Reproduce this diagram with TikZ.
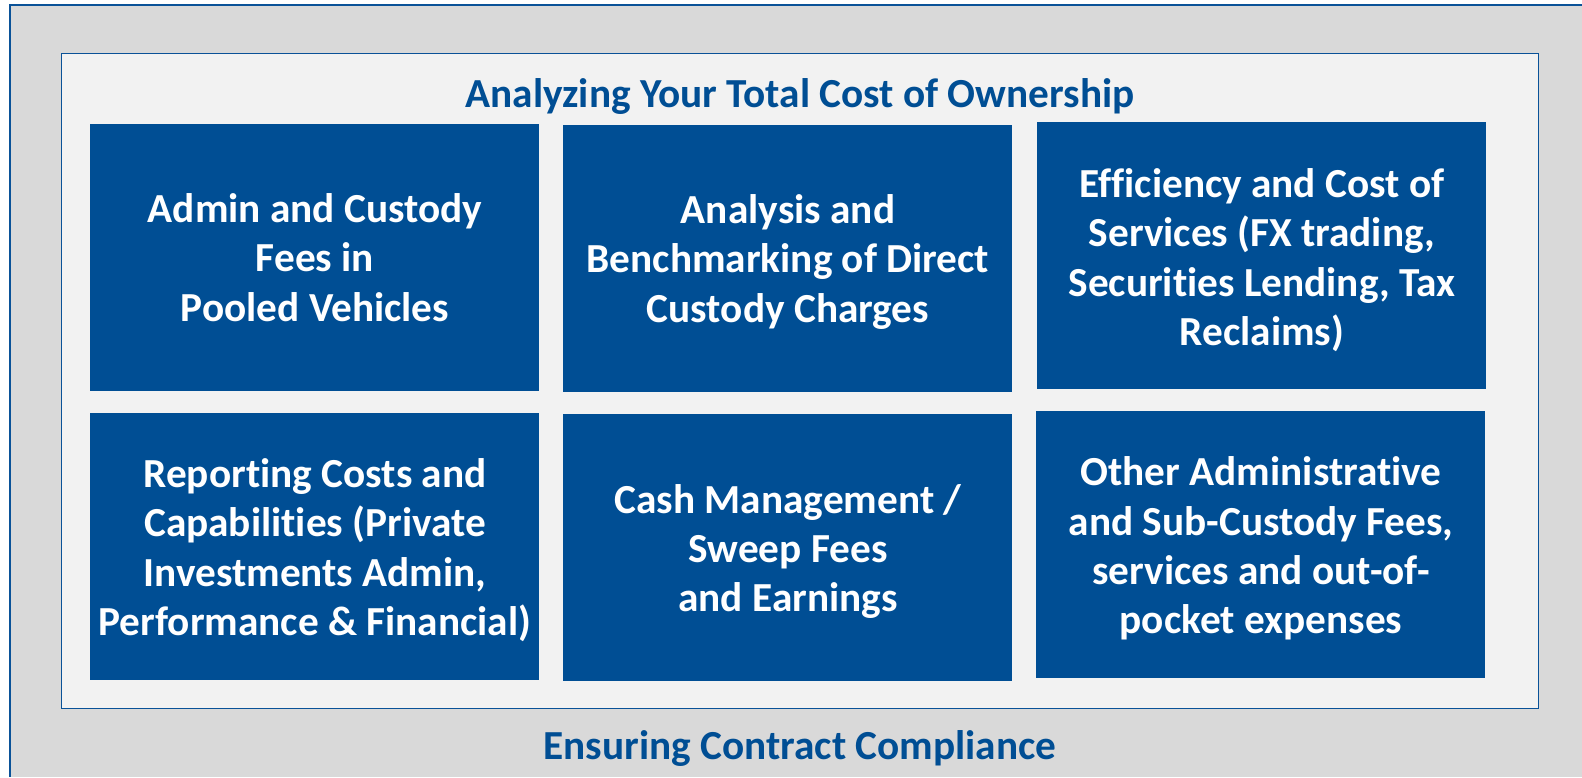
\documentclass[tikz,border=0pt]{standalone}
\usepackage{fontspec}
\setmainfont{Carlito}[BoldFont=Carlito Bold,Ligatures=NoCommon]
\definecolor{bluefill}{HTML}{004E94}
\definecolor{borderblue}{HTML}{0A5298}
\definecolor{outergray}{HTML}{D9D9D9}
\definecolor{innergray}{HTML}{F2F2F2}
\tikzset{
  x=1pt,y=-1pt,
  tilebox/.style={fill=bluefill,inner sep=0pt,anchor=center,minimum width=449pt,minimum height=267pt},
  tiletext/.style={text=white,inner sep=0pt,font=\fontsize{41.3}{49.4}\selectfont\bfseries,align=center,anchor=center},
  headline/.style={text=bluefill,inner sep=0pt,font=\fontsize{41.3}{49}\selectfont\bfseries,anchor=center},
  frameline/.style={draw=borderblue,line width=1.8pt}
}
\begin{document}
\begin{tikzpicture}
\useasboundingbox (0,0) rectangle (1582,777);
\fill[white] (0,0) rectangle (1582,777);
\path[fill=outergray] (10,5) rectangle (1582,777);
\draw[frameline] (1582,5) -- (10,5) -- (10,777);
\path[fill=innergray,frameline] (61.5,53.5) rectangle (1538.5,708.5);
\node[headline] (title) at (800,97) {Analyzing Your Total Cost of Ownership};
\node[headline] (foot) at (800,748) {Ensuring Contract Compliance};
\node[tilebox] (a) at (314,257.5) {};
\node[tilebox] (b) at (787,258.5) {};
\node[tilebox] (c) at (1261.5,255.5) {};
\node[tilebox] (d) at (314,546.5) {};
\node[tilebox] (e) at (787,547.5) {};
\node[tilebox] (f) at (1260.5,544.5) {};
\node[tiletext] (at) at (315,257.5) {Admin and Custody\\Fees in\\Pooled Vehicles};
\node[tiletext] (bt) at (788,262) {Analysis and\\Benchmarking of Direct\\Custody Charges};
\node[tiletext] (ct) at (1262,260) {Efficiency and Cost of\\Services (FX trading,\\Securities Lending, Tax\\Reclaims)};
\node[tiletext] (dt) at (315,550) {Reporting Costs and\\Capabilities (Private\\Investments Admin,\\Performance \& Financial)};
\node[tiletext] (et) at (788,551.5) {Cash Management /\\Sweep Fees\\and Earnings};
\node[tiletext] (ft) at (1261,548.5) {Other Administrative\\and Sub-Custody Fees,\\services and out-of-\\pocket expenses};
\end{tikzpicture}
\end{document}
